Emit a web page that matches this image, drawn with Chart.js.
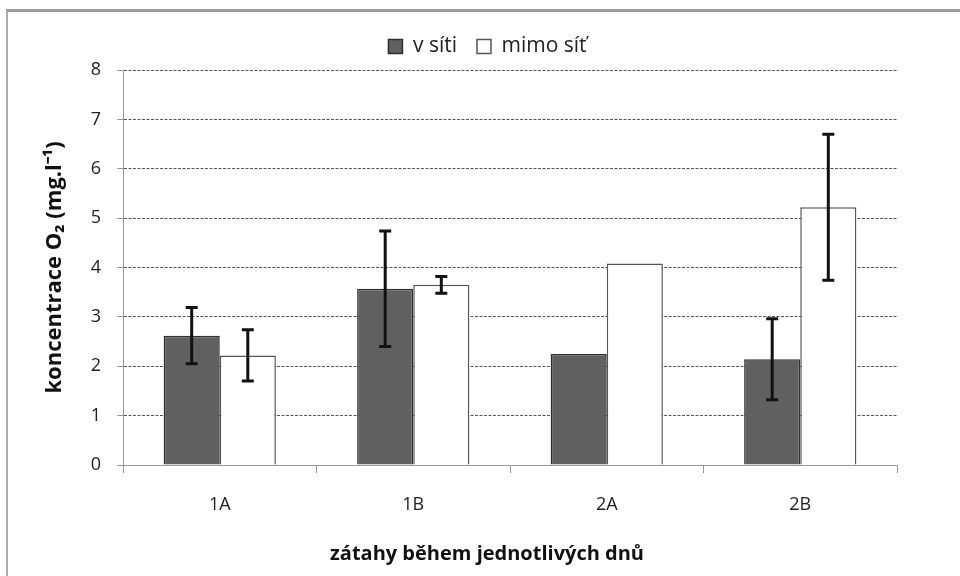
<!DOCTYPE html>
<html>
<head>
<meta charset="utf-8">
<script src="https://cdn.jsdelivr.net/npm/chart.js@4/dist/chart.umd.min.js"></script>
<style>
  html, body { margin: 0; padding: 0; background: #fff; }
  #wrap { position: relative; width: 960px; height: 576px; overflow: hidden; }
  #frame { position: absolute; left: 6px; top: 9px; width: 960px; height: 600px;
           border-top: 3px solid #9a9a9a; border-left: 2px solid #aaaaaa; pointer-events: none; }
  canvas { position: absolute; left: 0; top: 0; }
</style>
</head>
<body>
<div id="wrap">
  <canvas id="chart" width="960" height="576"></canvas>
  <div id="frame"></div>
</div>
<script>
// data ...........................................
const categories = ["1A", "1B", "2A", "2B"];
const seriesNames = ["v síti", "mimo síť"];
const vSiti = [2.62, 3.57, 2.25, 2.14];
const vSitiErr = [0.57, 1.17, 0, 0.82];
const mimoSit = [2.22, 3.65, 4.08, 5.22];
const mimoSitErr = [0.52, 0.17, 0, 1.48];

const FONT = "'Open Sans', sans-serif";

// shift a drawing method sideways (legend and x title sit left of the plot centre)
function shifted(obj, name, dx)
{
	const orig = obj[name].bind(obj);
	obj[name] = function() {
		const c = obj.ctx;
		c.save(); c.translate(dx, 0); orig(); c.restore();
	};
	obj[name]._shifted = true;
}

// error bars drawn over the bars, through the y scale
const errorBars = {
	id: "errorBars",
	beforeInit(chart)
	{
		const lg = chart.legend;
		const fit = lg.fit.bind(lg);
		lg.fit = function() { fit(); this.height += 3; };
		shifted(lg, "draw", 39);
	},
	beforeDraw(chart)
	{
		const x = chart.scales.x;
		if (!x.drawTitle._shifted) shifted(x, "drawTitle", -23);
	},
	afterDatasetsDraw(chart)
	{
		const ctx = chart.ctx;
		const y = chart.scales.y;
		chart.data.datasets.forEach((ds, i) => {
			const meta = chart.getDatasetMeta(i);
			meta.data.forEach((bar, j) => {
				const e = ds.errors[j];
				if (!e) return;
				const top = y.getPixelForValue(ds.data[j] + e);
				const bot = y.getPixelForValue(ds.data[j] - e);
				ctx.save();
				ctx.strokeStyle = "#111";
				ctx.lineWidth = 3;
				ctx.beginPath();
				ctx.moveTo(bar.x, top); ctx.lineTo(bar.x, bot);
				ctx.moveTo(bar.x - 6, top); ctx.lineTo(bar.x + 6, top);
				ctx.moveTo(bar.x - 6, bot); ctx.lineTo(bar.x + 6, bot);
				ctx.stroke();
				ctx.restore();
			});
		});
	}
};

const chart = new Chart(document.getElementById("chart"),
{
	type: "bar",
	data:
	{
		labels: categories,
		datasets: [
			{ label: seriesNames[0], data: vSiti, errors: vSitiErr,
			  backgroundColor: "#606060", borderColor: "#2e2e2e", borderWidth: 1.5 },
			{ label: seriesNames[1], data: mimoSit, errors: mimoSitErr,
			  backgroundColor: "#ffffff", borderColor: "#555555", borderWidth: 1.5 }
		]
	},
	options:
	{
		responsive: false,
		animation: false,
		layout: { padding: { top: 16, right: 63, bottom: 0, left: 0 } },
		datasets: { bar: { categoryPercentage: 0.58, barPercentage: 1 } },
		plugins:
		{
			legend:
			{
				position: "top",
				labels: { font: { family: FONT, size: 21 }, color: "#222",
				          boxWidth: 14, boxHeight: 14, padding: 20 }
			},
			tooltip: { enabled: false }
		},
		scales:
		{
			x:
			{
				grid: { drawOnChartArea: false, tickLength: 8, tickColor: "#999", offset: true },
				border: { color: "#999", width: 1 },
				ticks: { font: { family: FONT, size: 18 }, color: "#222", padding: 21 },
				title: { display: true, text: "zátahy během jednotlivých dnů",
				         font: { family: FONT, size: 20, weight: "bold" }, color: "#111",
				         padding: { top: 0, bottom: 10 } },
				afterFit: (s) => { s.height = 111; }
			},
			y:
			{
				min: 0, max: 8,
				ticks: { stepSize: 1, font: { family: FONT, size: 18 }, color: "#222", padding: 16 },
				grid: { color: (c) => c.tick && c.tick.value === 0 ? "rgba(0,0,0,0)" : "#555",
				        lineWidth: 1, tickLength: 6, tickColor: "#999", tickBorderDash: [] },
				border: { color: "#999", width: 1, dash: [3, 1.5] },
				title: { display: true, text: "koncentrace O₂ (mg.l⁻¹)",
				         font: { family: FONT, size: 22, weight: "bold" }, color: "#111",
				         padding: { top: 42, bottom: 0 } },
				afterFit: (s) => { s.width = 123; }
			}
		}
	},
	plugins: [errorBars]
});
</script>
</body>
</html>
